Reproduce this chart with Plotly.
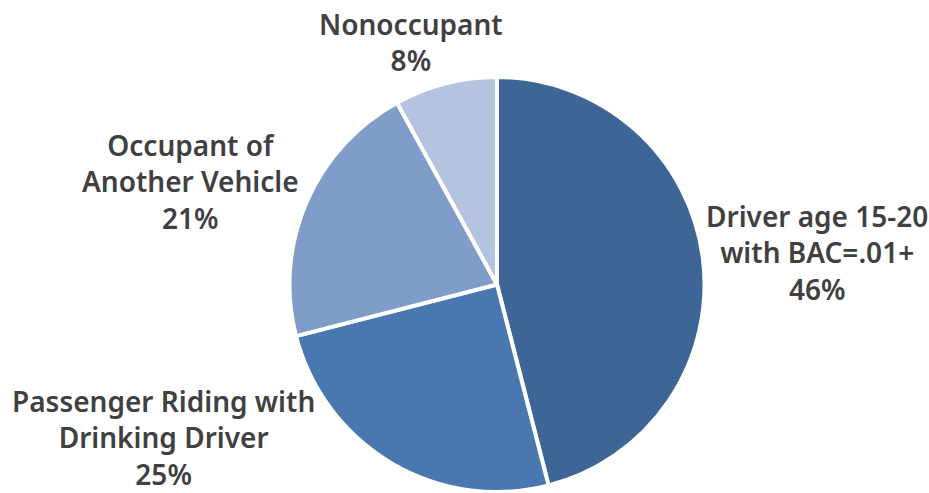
import plotly.graph_objects as go

# Data
labels = ['Driver age 15-20<br>with BAC=.01+', 'Passenger Riding with<br>Drinking Driver',
          'Occupant of<br>Another Vehicle', 'Nonoccupant']
values = [46, 25, 21, 8]
colors = ['#3D6596', '#4978B0', '#7F9DC8', '#B4C4DF']

# label centres in pixels (layout only)
label_pos = [(817, 252), (163, 437), (190, 181), (411, 42)]

W, H = 929, 493

fig = go.Figure(go.Pie(
    labels=labels, values=values, sort=False, direction='clockwise', rotation=0,
    marker=dict(colors=colors, line=dict(color='white', width=4)),
    textinfo='none', hoverinfo='label+percent',
    domain=dict(x=[289 / W, 705 / W], y=[1 / H, 1 - 77 / H]),
))

total = sum(values)
for lab, val, (px, py) in zip(labels, values, label_pos):
    fig.add_annotation(
        x=px / W, y=1 - py / H, xref='paper', yref='paper',
        text=f'{lab}<br>{round(val / total * 100)}%',
        showarrow=False, xanchor='center', yanchor='middle',
        font=dict(family='Noto Sans, sans-serif', size=28, color='#404040', weight=600),
    )

fig.update_layout(width=W, height=H, margin=dict(l=0, r=0, t=0, b=0),
                  showlegend=False, paper_bgcolor='white', plot_bgcolor='white')

fig.write_html('out.html', config={'displayModeBar': False},
               post_script="document.body.style.margin='0';")
